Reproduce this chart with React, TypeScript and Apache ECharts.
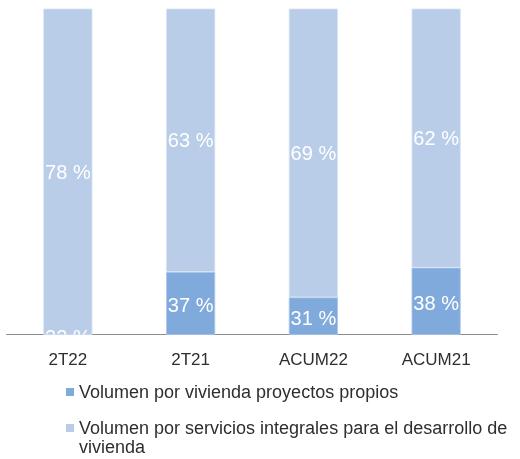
import React, { useEffect, useRef } from 'react';
import * as echarts from 'echarts';

const categories = ['2T22', '2T21', 'ACUM22', 'ACUM21'];
const ownProjects = [22, 37, 31, 38];
const integralServices = [78, 63, 69, 62];
const seriesNames = [
  'Volumen por vivienda proyectos propios',
  'Volumen por servicios integrales para el desarrollo de vivienda',
];
const axisMin = 22.2;
const axisMax = 99.2;

const FONT = '"Liberation Sans", Arial, sans-serif';
const DARK = '#80AADC';
const LIGHT = '#B9CDE8';

export default function App() {
  const ref = useRef<HTMLDivElement>(null);

  useEffect(() => {
    if (!ref.current) return;
    const chart = echarts.init(ref.current, undefined, { renderer: 'svg' });
    const clamp = (v: number) => Math.max(axisMin, Math.min(axisMax, v));

    const legendBase = {
      orient: 'vertical',
      left: 66,
      padding: 0,
      itemGap: 0,
      itemWidth: 8,
      selectedMode: false,
      itemStyle: { borderWidth: 0 },
      textStyle: { fontFamily: FONT, fontSize: 18, lineHeight: 19, color: '#2E2E2E' },
    };

    chart.setOption({
      animation: false,
      grid: { left: 6.5, right: 22.5, top: 9, bottom: 124.5 },
      xAxis: {
        type: 'category',
        data: categories,
        axisLine: { lineStyle: { color: '#8C8C8C', width: 1 } },
        axisTick: { length: 4, lineStyle: { color: '#8C8C8C' } },
        axisLabel: { fontFamily: FONT, fontSize: 17, color: '#2E2E2E', margin: 16 },
      },
      yAxis: {
        type: 'value',
        min: axisMin,
        max: axisMax,
        show: false,
        splitLine: { show: false },
      },
      legend: [
        { ...legendBase, top: 382.5, icon: 'rect', itemHeight: 8, data: [seriesNames[0]] },
        {
          ...legendBase,
          top: 418.5,
          icon: 'path://M0,0h8v8h-8zM0,27h0.01v0.01h-0.01z',
          itemHeight: 27,
          formatter: () => 'Volumen por servicios integrales para el desarrollo de\nvivienda',
          data: [seriesNames[1]],
        },
      ],
      series: [
        {
          name: seriesNames[0],
          type: 'bar',
          stack: 'total',
          barWidth: '40%',
          data: ownProjects,
          itemStyle: { color: DARK, borderColor: '#A9C6E8', borderWidth: 0.8 },
          label: { show: false },
        },
        {
          name: seriesNames[1],
          type: 'bar',
          stack: 'total',
          barWidth: '40%',
          data: integralServices,
          itemStyle: { color: LIGHT, borderColor: '#D5E2F2', borderWidth: 0.8 },
          label: {
            show: true,
            position: 'inside',
            formatter: '{c} %',
            color: '#FFFFFF',
            fontFamily: FONT,
            fontSize: 20,
          },
        },
        {
          type: 'custom',
          name: 'labels',
          clip: true,
          z: 5,
          data: ownProjects.map((v, i) => [i, v]),
          encode: { x: 0, y: 1 },
          renderItem: (params: any, api: any) => {
            const cat = api.value(0);
            const v = api.value(1);
            const mid = (clamp(0) + clamp(v)) / 2;
            const pt = api.coord([cat, mid]);
            return {
              type: 'text',
              x: pt[0],
              y: pt[1] + 2,
              style: {
                text: v + ' %',
                fill: '#FFFFFF',
                font: `20px ${FONT}`,
                align: 'center',
                verticalAlign: 'middle',
              },
            };
          },
        },
      ],
    });

    return () => chart.dispose();
  }, []);

  return (
    <div
      ref={ref}
      style={{ position: 'fixed', left: 0, top: 0, width: 520, height: 459 }}
    />
  );
}
